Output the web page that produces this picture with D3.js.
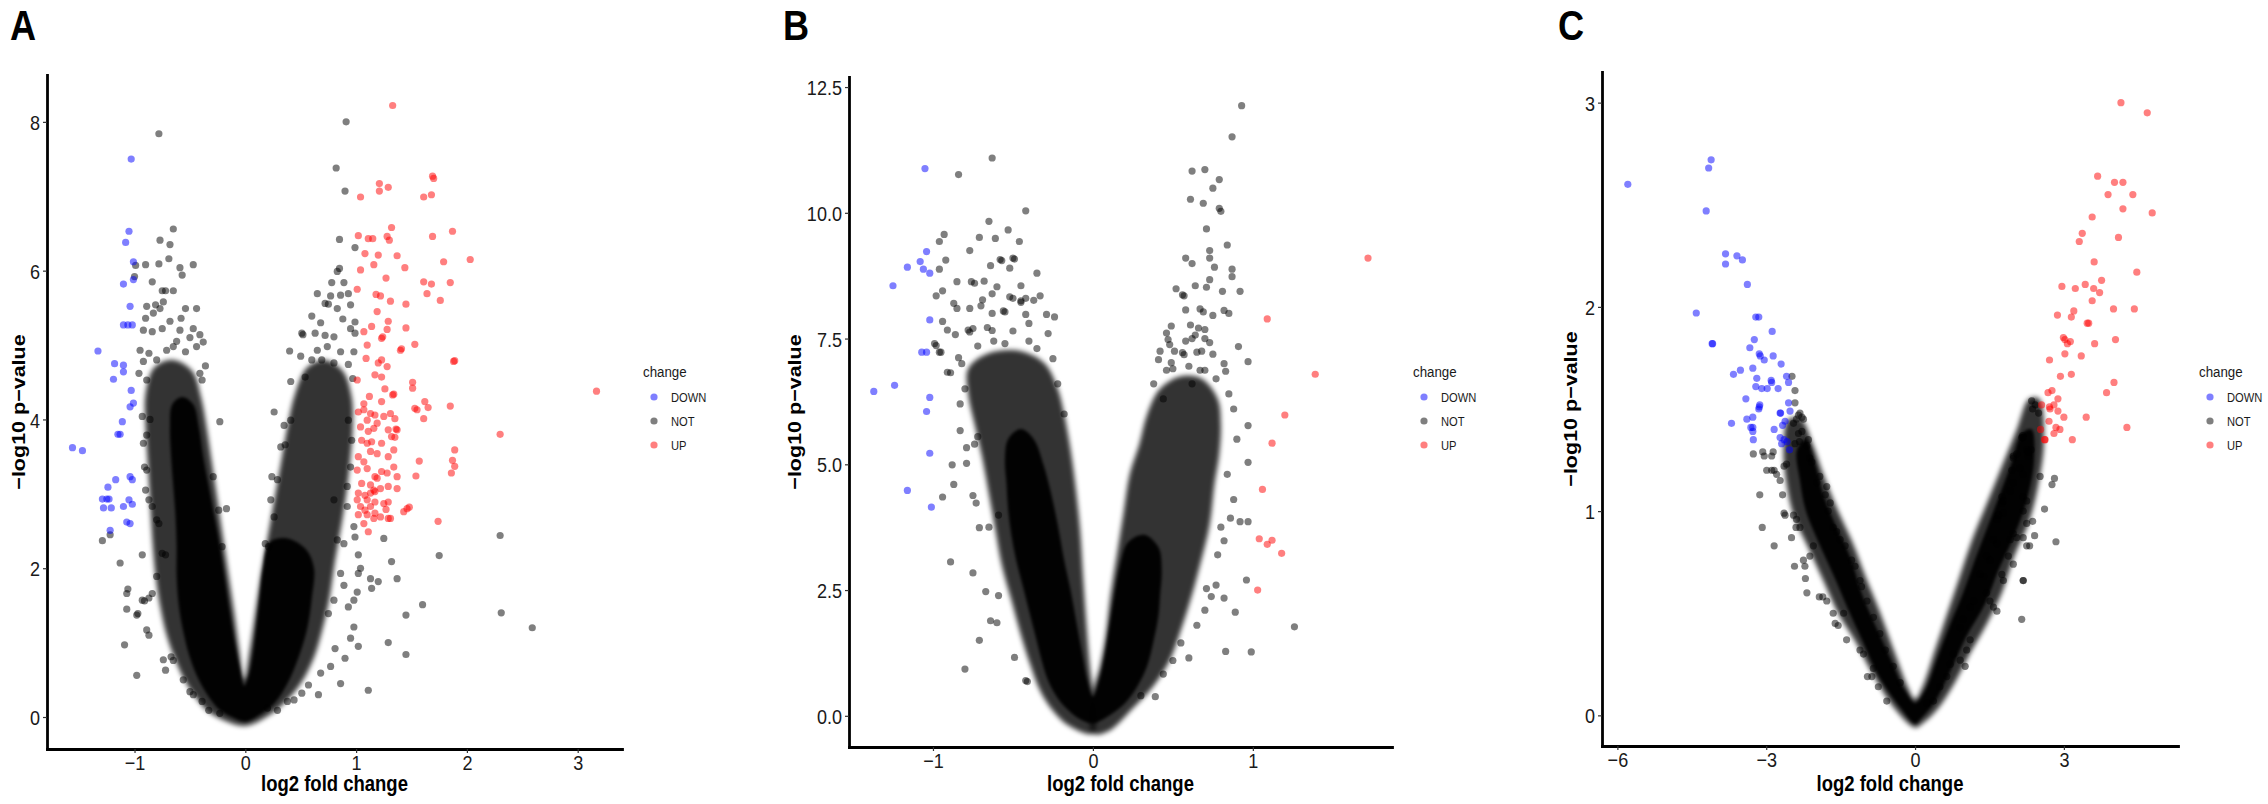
<!DOCTYPE html>
<html>
<head>
<meta charset="utf-8">
<script src="https://cdn.jsdelivr.net/npm/d3@7"></script>
<style>
  body { margin: 0; background: #fff; }
  svg { display: block; font-family: "Liberation Sans", Arial, sans-serif; }
</style>
</head>
<body>
<div id="chart"></div>
<script>
// ---------- values ----------
const changeLevels = ['DOWN', 'NOT', 'UP'];

// panel A
const aXTicks = [-1, 0, 1, 2, 3];
const aYTicks = [0, 2, 4, 6, 8];
// dense part of the cloud, outlined as [log2FC, -log10 p]
const aCore = [[[0,-0.06],[-0.12,0],[-0.22,0.08],[-0.32,0.25],[-0.42,0.5],[-0.5,0.8],[-0.56,1.15],[-0.6,1.5],[-0.62,1.9],[-0.62,2.3],[-0.63,2.7],[-0.65,3.1],[-0.67,3.5],[-0.68,3.9],[-0.66,4.2],[-0.57,4.3],[-0.47,4.2],[-0.42,3.9],[-0.38,3.5],[-0.33,3.1],[-0.28,2.7],[-0.23,2.3],[-0.19,1.9],[-0.14,1.4],[-0.09,0.95],[-0.05,0.65],[-0.01,0.42],[0.03,0.55],[0.07,0.85],[0.1,1.2],[0.13,1.6],[0.16,2],[0.22,2.35],[0.38,2.4],[0.55,2.25],[0.62,2],[0.6,1.6],[0.56,1.2],[0.48,0.8],[0.38,0.45],[0.27,0.2],[0.14,0.04]]];
const aHalo = [[[0,-0.12],[-0.2,-0.04],[-0.33,0.07],[-0.44,0.25],[-0.55,0.5],[-0.64,0.8],[-0.71,1.1],[-0.77,1.5],[-0.81,1.9],[-0.84,2.4],[-0.86,2.9],[-0.88,3.4],[-0.9,3.9],[-0.9,4.35],[-0.82,4.7],[-0.65,4.8],[-0.48,4.65],[-0.4,4.3],[-0.35,3.9],[-0.3,3.4],[-0.25,2.9],[-0.2,2.4],[-0.15,1.9],[-0.1,1.4],[-0.055,0.9],[-0.01,0.5],[0.04,0.9],[0.09,1.4],[0.14,1.9],[0.2,2.4],[0.26,2.9],[0.32,3.4],[0.38,3.9],[0.45,4.35],[0.56,4.7],[0.72,4.8],[0.88,4.65],[0.96,4.3],[0.97,3.9],[0.95,3.5],[0.92,3.1],[0.87,2.6],[0.81,2.1],[0.76,1.6],[0.7,1.2],[0.62,0.8],[0.5,0.45],[0.34,0.17],[0.2,0.01]]];
const aNot = [[-1.29,2.37],[-1.22,2.45],[-1.13,2.07],[-1.09,0.97],[-1.07,1.45],[-1.07,1.66],[-1.06,1.72],[-0.98,0.56],[-0.98,1.37],[-0.97,1.39],[-0.93,2.18],[-0.9,3.05],[-0.91,3.36],[-0.89,3.32],[-0.93,1.57],[-0.91,1.56],[-0.84,1.66],[-0.87,1.6],[-0.89,1.17],[-0.87,1.1],[-0.8,1.89],[-0.75,2.2],[-0.72,2.18],[-0.74,0.77],[-0.72,0.63],[-0.67,0.81],[-0.65,0.76],[-0.56,0.5],[-0.5,0.34],[-0.47,0.3],[-0.39,0.21],[-0.33,0.09],[-0.23,0.05],[-0.8,2.65],[-0.78,2.6],[-0.87,2.92],[-0.84,2.83],[-0.92,3.68],[-0.89,3.79],[-0.93,4.04],[-0.86,4],[-0.23,3.97],[-0.29,3.23],[-0.24,2.78],[-0.21,2.29],[-0.17,2.8],
  [-0.78,7.84],[-0.65,6.56],[-0.77,6.41],[-0.68,6.35],[-0.69,6.16],[-0.78,6.09],[-0.9,6.08],[-0.59,6.04],[-0.57,5.94],[-0.47,6.08],[-0.99,6.07],[-1,5.92],[-0.84,5.85],[-0.75,5.73],[-0.72,5.73],[-0.65,5.73],[-0.89,5.52],[-0.81,5.54],[-0.74,5.58],[-0.54,5.49],[-0.44,5.49],[-0.9,5.36],[-0.83,5.43],[-0.77,5.49],[-0.92,5.2],[-0.84,5.18],[-0.75,5.22],[-0.59,5.2],[-0.47,5.22],[-0.41,5.14],[-0.95,4.93],[-0.87,4.89],[-0.8,4.8],[-0.71,4.93],[-0.65,4.98],[-0.54,4.91],[-0.44,4.98],[-0.38,5.04],[-0.96,4.62],[-0.89,4.53],[-0.41,4.62],[-0.39,4.53],[-0.62,5.05],[-0.5,5.1],[-0.68,5.32],[-0.58,5.36],[-0.92,4.78],[-0.36,4.72],
  [0.26,4.1],[0.35,3.92],[0.41,3.99],[0.32,3.63],[0.36,3.66],[0.24,3.23],[0.29,3.19],[0.23,2.92],[0.26,2.69],[0.18,2.33],[0.21,2.29],[1.25,2.4],[1.02,2.18],[1.04,2],[1.02,1.93],[1.13,1.86],[1.14,1.73],[1.2,1.82],[1.32,2.09],[1.37,1.86],[0.98,1.57],[0.93,1.48],[1.01,1.68],[0.86,1.93],[0.89,1.77],[0.8,1.57],[0.75,1.39],[0.98,1.21],[0.95,1.06],[1.02,0.95],[0.81,0.92],[0.9,0.79],[0.77,0.68],[0.68,0.59],[0.86,0.45],[0.66,0.3],[1.11,0.36],[1.29,1],[1.45,0.84],[1.45,1.37],[1.6,1.51],[1.75,2.17],[2.3,2.44],[2.31,1.4],[2.59,1.2],[0.51,0.32],[0.57,0.43],[0.44,0.23],[0.38,0.21],[0.2,0.12],[0.29,0.09],[0.83,2.38],[0.89,2.33],[0.98,2.56],[0.99,2.42],[0.8,2.92],[0.92,2.83],[0.95,3.36],[0.92,3.1],[0.96,3.72],[0.93,3.99],
  [0.91,8],[0.82,7.38],[0.9,7.07],[0.85,6.42],[0.99,6.31],[0.85,6.03],[0.83,5.99],[0.78,5.84],[0.89,5.84],[0.65,5.69],[0.77,5.66],[0.86,5.67],[0.93,5.69],[0.72,5.56],[0.75,5.55],[0.83,5.49],[0.95,5.54],[0.6,5.39],[0.4,4.92],[0.51,5.16],[0.52,5.14],[0.41,4.51],[0.54,4.57],[0.63,5.16],[0.72,5.13],[0.8,5.11],[0.65,4.93],[0.74,4.98],[0.86,4.91],[0.98,4.91],[0.6,4.8],[0.69,4.8],[0.8,4.76],[0.93,4.74],[0.99,5.31],[0.95,5.22],[0.99,5.16],[0.5,4.85],[0.68,5.3],[0.88,5.35],[0.97,4.55]];
const aDown = [[-1.03,7.5],[-1.05,6.53],[-1.08,6.38],[-1.01,6.12],[-1.01,5.88],[-1.1,5.82],[-1.04,5.52],[-1.1,5.27],[-1.06,5.27],[-1.02,5.27],[-1.33,4.92],[-1.18,4.75],[-1.1,4.73],[-1.1,4.64],[-1.19,4.54],[-1.03,4.39],[-1.01,4.22],[-1.04,4.17],[-1.11,3.97],[-1.15,3.8],[-1.13,3.8],[-1.56,3.62],[-1.47,3.58],[-1.04,3.23],[-1.02,3.19],[-1.17,3.19],[-1.24,3.09],[-1.29,2.93],[-1.23,2.93],[-1.25,2.93],[-1.28,2.81],[-1.21,2.81],[-1.1,2.83],[-1.05,2.92],[-1.02,2.86],[-1.07,2.62],[-1.04,2.6],[-1.22,2.51]];
const aUp = [[1.33,8.22],[1.69,7.27],[1.7,7.24],[1.21,7.17],[1.29,7.12],[1.21,7.07],[1.04,6.99],[1.61,6.99],[1.68,7.02],[1.32,6.58],[1.02,6.47],[1.11,6.43],[1.15,6.43],[1.28,6.46],[1.3,6.41],[1.69,6.46],[1.87,6.53],[1.08,6.23],[1.2,6.21],[1.37,6.2],[1.16,6.08],[1.44,6.04],[1.04,6.01],[1.79,6.12],[2.03,6.15],[1.27,5.9],[1.61,5.85],[1.68,5.82],[1.85,5.84],[1.01,5.75],[1.18,5.68],[1.22,5.66],[1.31,5.59],[1.45,5.55],[1.64,5.69],[1.76,5.6],[1.19,5.45],[1.29,5.32],[1.28,5.21],[1.14,5.25],[1.45,5.23],[1.07,5.18],[1.23,5.09],[1.24,5.11],[1.53,5.01],[1.1,5],[1.4,4.93],[1.41,4.95],[1.09,4.82],[1.23,4.8],[1.2,4.76],[1.88,4.78],[1.89,4.79],[1.28,4.71],[1.17,4.6],[1.23,4.57],[1.51,4.5],[1.51,4.42],[1.01,4.53],[1.33,4.33],[1.34,4.34],[1.26,4.41],[1.12,4.31],[1.23,4.24],[1.07,4.21],[1.62,4.24],[1.85,4.18],[1.65,4.16],[1.53,4.15],[1.55,4.13],[3.17,4.38],[1.61,4.01],[2.3,3.8],[1.36,3.87],[1.35,3.76],
  [1.89,3.59],[1.87,3.45],[1.89,3.37],[1.86,3.28],[1.57,3.44],[1.54,3.24],[1.37,3.07],[1.29,2.89],[1.27,2.79],[1.43,2.76],[1.48,2.82],[1.31,2.67],[1.74,2.63],
  [1.02,4.1],[1.07,4.13],[1.13,4.08],[1.17,4.06],[1.1,3.99],[1.19,3.95],[1.25,4.04],[1.31,4.08],[1.35,4.01],[1.04,3.9],[1.11,3.84],[1.16,3.88],[1.29,3.86],[1.37,3.86],[1.05,3.72],[1.1,3.68],[1.14,3.7],[1.23,3.68],[1.32,3.77],[1.34,3.59],[1.13,3.57],[1.19,3.54],[1.29,3.5],[1.02,3.5],[1.07,3.43],[1.01,3.32],[1.1,3.34],[1.17,3.23],[1.19,3.21],[1.23,3.3],[1.28,3.28],[1.34,3.36],[1.37,3.23],[1.05,3.14],[1.13,3.12],[1.16,3.05],[1.22,3.07],[1.29,3.1],[1.02,3.01],[1.08,2.98],[1.13,3.01],[1.17,3.03],[1.01,2.92],[1.1,2.92],[1.17,2.89],[1.25,2.87],[1.46,2.8],[1.04,2.83],[1.08,2.78],[1.13,2.83],[1.17,2.74],[1.02,2.72],[1.1,2.72],[1.16,2.67],[1.22,2.69],[1.29,2.67],[1.07,2.6],[1.11,2.49]];

// panel B
const bXTicks = [-1, 0, 1];
const bYTicks = [0, 2.5, 5, 7.5, 10, 12.5];
const bCore = [[[0,-0.15],[-0.08,-0.07],[-0.15,0.1],[-0.22,0.35],[-0.28,0.7],[-0.32,1.1],[-0.36,1.6],[-0.4,2.1],[-0.44,2.6],[-0.48,3.1],[-0.51,3.6],[-0.53,4.1],[-0.54,4.6],[-0.55,5.1],[-0.53,5.5],[-0.45,5.7],[-0.37,5.5],[-0.31,5],[-0.26,4.4],[-0.22,3.8],[-0.18,3.1],[-0.14,2.5],[-0.1,1.8],[-0.065,1.2],[-0.035,0.7],[0,0.38],[0.04,0.7],[0.075,1.2],[0.105,1.8],[0.135,2.4],[0.17,3],[0.22,3.45],[0.32,3.6],[0.41,3.35],[0.43,2.9],[0.42,2.4],[0.41,2],[0.38,1.5],[0.34,1],[0.28,0.6],[0.2,0.25],[0.1,0]]];
const bHalo = [
  [[0,-0.35],[-0.15,-0.2],[-0.25,0.1],[-0.33,0.5],[-0.39,1],[-0.45,1.6],[-0.51,2.3],[-0.57,3],[-0.61,3.7],[-0.65,4.4],[-0.69,5.1],[-0.74,5.8],[-0.78,6.4],[-0.78,6.9],[-0.66,7.2],[-0.45,7.25],[-0.3,7],[-0.22,6.5],[-0.18,6],[-0.14,5.3],[-0.11,4.6],[-0.08,3.7],[-0.06,2.7],[-0.04,1.8],[-0.02,1],[0,0.45]],
  [[0,0.45],[0.045,1],[0.08,1.6],[0.11,2.4],[0.15,3.2],[0.19,4],[0.23,4.8],[0.29,5.4],[0.34,6],[0.42,6.5],[0.55,6.75],[0.68,6.7],[0.78,6.3],[0.8,5.8],[0.79,5.2],[0.76,4.6],[0.73,3.8],[0.67,3],[0.61,2.3],[0.55,1.7],[0.48,1.1],[0.38,0.6],[0.25,0.15],[0.1,-0.3],[0,-0.35]]];
const bNot = [[0.93,12.13],[0.87,11.51],[0.62,10.83],[0.7,10.86],[0.79,10.66],[0.75,10.49],[0.61,10.27],[0.69,10.19],[0.79,10.09],[0.8,10.03],[0.71,9.68],[0.84,9.36],[0.73,9.25],[0.73,9.1],[0.58,9.1],[0.62,8.99],[0.76,8.92],[0.87,8.88],[0.87,8.73],[0.52,8.49],[0.56,8.37],[0.57,8.35],[0.64,8.55],[0.71,8.52],[0.73,8.67],[0.81,8.44],[0.92,8.44],[0.58,8.07],[0.67,8.09],[0.69,8.03],[0.75,7.96],[0.82,8.06],[0.85,8],[0.49,7.75],[0.61,7.77],[0.66,7.71],[0.7,7.68],[0.46,7.61],[0.47,7.48],[0.64,7.57],[0.62,7.5],[0.58,7.45],[0.7,7.5],[0.73,7.42],[0.48,7.38],[0.91,7.34],[0.42,7.25],[0.51,7.25],[0.56,7.22],[0.57,7.18],[0.65,7.23],[0.68,7.25],[0.75,7.19],[0.41,7.08],[0.97,7.04],[0.49,7.02],[0.82,7],[0.83,6.85],[0.46,6.87],[0.67,6.87],[0.7,6.87],[0.97,5.77],[0.97,5.04],[0.86,3.93],[0.92,3.86],[0.97,3.86],[0.82,3.48],[0.8,3.75],[0.96,2.7],[0.82,2.34],[0.74,2.37],[0.89,2.06],[1.26,1.77],[0.83,1.28],[0.99,1.27],[0.77,2.6],[0.71,2.53],[0.44,0.83],[0.39,0.38],[0.6,1.15],[0.85,6.4],[0.88,6.1],[0.9,5.5],[0.84,4.8],[0.88,4.3],[0.78,3.2],[0.7,2.1],[0.65,1.8],[0.55,1.45],[0.5,1.1],[0.3,0.4],[0.38,6.6],[0.5,6.9],[0.6,6.95],[0.77,6.7],[0.44,6.3],[0.62,6.6],
  [-0.63,11.09],[-0.84,10.76],[-0.42,10.04],[-0.65,9.83],[-0.53,9.66],[-0.93,9.57],[-0.96,9.43],[-0.71,9.51],[-0.61,9.49],[-0.46,9.43],[-0.77,9.25],[-0.58,9.07],[-0.57,9.05],[-0.5,9.1],[-0.49,9.08],[-0.92,9.06],[-0.96,8.88],[-0.64,8.95],[-0.52,8.9],[-0.35,8.8],[-0.85,8.63],[-0.76,8.63],[-0.74,8.6],[-0.68,8.64],[-0.6,8.53],[-0.45,8.55],[-0.98,8.35],[-0.94,8.45],[-0.63,8.39],[-0.52,8.33],[-0.5,8.3],[-0.42,8.3],[-0.45,8.25],[-0.33,8.35],[-0.69,8.27],[-0.87,8.2],[-0.85,8.1],[-0.45,8.22],[-0.37,8.26],[-0.77,8.1],[-0.7,8.15],[-0.94,7.84],[-0.63,8],[-0.56,8.05],[-0.55,8.03],[-0.42,7.98],[-0.29,7.98],[-0.24,7.93],[-0.91,7.67],[-0.86,7.58],[-0.78,7.67],[-0.77,7.63],[-0.75,7.7],[-0.66,7.72],[-0.63,7.66],[-0.99,7.4],[-0.98,7.36],[-0.96,7.23],[-0.95,7.23],[-0.91,6.83],[-0.89,6.82],[-0.84,7.12],[-0.83,5.67],[-0.88,4.99],[-0.94,4.35],[-0.87,4.6],[-0.89,3.06],[-0.75,2.84],[-0.67,2.47],[-0.59,2.39],[-0.64,1.89],[-0.6,1.85],[-0.71,1.5],[-0.8,0.93],[-0.49,1.16],[-0.42,0.7],[-0.41,0.68],[-0.71,3.74],[-0.65,3.75],[-0.59,3.99],[-0.75,4.38],[-0.73,4.23],[-0.79,5.02],[-0.79,5.33],[-0.74,5.4],[-0.72,5.55],[-0.83,6.2],[-0.8,6.5],[-0.28,7.6],[-0.35,7.3],[-0.25,7.1],[-0.4,7.8],[-0.5,7.65],[-0.55,7.4],[-0.22,6.6],[-0.18,6],[-0.72,7.35],[-0.62,7.45],[-0.82,7.0],[-0.4,7.45]];
const bDown = [[-1.05,10.88],[-1.04,9.23],[-1.08,9.03],[-1.16,8.92],[-1.06,8.88],[-1.02,8.8],[-1.25,8.55],[-1.02,7.87],[-1.07,7.23],[-1.04,7.23],[-1.24,6.57],[-1.37,6.45],[-1.02,6.33],[-1.04,6.05],[-1.02,5.22],[-1.16,4.48],[-1.01,4.15]];
const bUp = [[1.72,9.1],[1.09,7.89],[1.39,6.79],[1.2,5.98],[1.12,5.42],[1.06,4.5],[1.04,3.52],[1.09,3.41],[1.12,3.49],[1.18,3.23],[1.03,2.5]];

// panel C
const cXTicks = [-6, -3, 0, 3];
const cYTicks = [0, 1, 2, 3];
const cCore = [[[0,-0.04],[-0.3,0.04],[-0.75,0.2],[-1.05,0.36],[-1.35,0.52],[-1.65,0.69],[-1.95,0.85],[-2.2,1],[-2.32,1.15],[-2.38,1.3],[-2.2,1.35],[-2,1.22],[-1.85,1.08],[-1.6,0.93],[-1.3,0.77],[-1.08,0.6],[-0.8,0.44],[-0.5,0.28],[-0.2,0.12],[0,0.06],[0.2,0.12],[0.45,0.28],[0.7,0.44],[0.97,0.6],[1.22,0.77],[1.47,0.93],[1.72,1.09],[1.95,1.24],[2.15,1.38],[2.35,1.4],[2.4,1.25],[2.25,1.05],[2,0.88],[1.68,0.71],[1.42,0.55],[1.02,0.38],[0.72,0.22],[0.38,0.06],[0.1,-0.02]]];
const cHalo = [[[0,-0.06],[-0.4,0.03],[-0.85,0.2],[-1.2,0.36],[-1.55,0.5],[-1.85,0.66],[-2.15,0.82],[-2.45,0.98],[-2.6,1.15],[-2.65,1.3],[-2.55,1.45],[-2.3,1.45],[-2.05,1.32],[-1.85,1.18],[-1.55,1],[-1.25,0.84],[-1,0.68],[-0.7,0.5],[-0.4,0.3],[-0.15,0.14],[0,0.08],[0.15,0.14],[0.4,0.32],[0.65,0.5],[0.9,0.68],[1.15,0.86],[1.45,1.04],[1.75,1.22],[2.05,1.4],[2.3,1.55],[2.5,1.55],[2.6,1.35],[2.5,1.15],[2.3,0.95],[2,0.78],[1.75,0.6],[1.45,0.45],[1.1,0.3],[0.8,0.16],[0.45,0.03],[0.15,-0.04]]];
const cNot = [[-3.26,1.28],[-3.07,1.29],[-3.04,1.27],[-2.86,1.29],[-2.89,1.27],[-2.99,1.2],[-2.89,1.2],[-2.84,1.2],[-2.72,1.15],[-2.79,1.18],[-2.64,1.22],[-2.59,1.23],[-3.13,1.08],[-2.67,1.08],[-3.08,0.92],[-2.84,0.83],[-2.49,0.87],[-2.64,0.99],[-2.62,0.98],[-2.45,0.98],[-2.39,0.96],[-2.4,0.92],[-2.32,0.92],[-2.43,0.73],[-2.21,0.67],[-2.18,0.6],[-2.25,0.76],[-2.22,0.73],[-2.12,0.78],[-2.05,0.83],[-1.93,0.58],[-1.86,0.58],[-1.78,0.56],[-1.61,0.45],[-1.55,0.44],[-1.65,0.5],[-1.44,0.5],[-1.38,0.37],[-0.96,0.19],[-0.87,0.19],[-0.84,0.23],[-1.11,0.32],[-1.04,0.3],[-0.74,0.14],[-0.57,0.07],[-2.42,1.33],[-2.33,1.34],[-2.35,1.38],[-2.28,1.39],[-2.45,1.43],[-2.39,1.45],[-2.32,1.48],[-2.28,1.46],[-2.15,1.35],[-2.18,1.32],[-2.12,1.26],[-2.08,1.24],[-1.92,1.17],[-1.98,1.14],[-1.78,1.12],[-1.81,1.08],[-1.71,1.04],[-1.75,1],[-1.65,0.92],[-1.58,0.9],[-1.51,0.86],[-1.41,0.83],[-1.28,0.76],[-1.21,0.73],[-1.11,0.66],[-1.08,0.63],[-0.97,0.56],[-0.84,0.48],[-0.71,0.4],[-0.6,0.32],[-0.44,0.24],[-0.3,0.16],[-2.48,1.66],[-2.42,1.59],[-2.42,1.53],[-2.35,1.47],[-2.25,1.45],
  [2.15,1.36],[2.17,1.37],[2.05,1.28],[1.98,1.26],[2.25,1.3],[2.28,1.27],[1.95,1.2],[2.18,1.18],[1.98,1.14],[1.92,1.1],[2.18,1.07],[2.25,1.05],[1.78,1.05],[1.75,1.04],[1.68,0.98],[1.65,0.96],[2.18,1],[2.25,0.94],[1.98,0.89],[1.92,0.86],[2.05,0.87],[2.18,0.87],[2.25,0.83],[1.98,0.74],[1.88,0.78],[2.18,0.66],[1.78,0.66],[1.75,0.69],[2.15,0.47],[1.65,0.84],[1.58,0.86],[1.44,0.78],[1.51,0.76],[1.31,0.69],[1.38,0.68],[1.44,0.6],[1.51,0.56],[1.58,0.53],[1.65,0.51],[1.18,0.56],[1.11,0.53],[0.97,0.47],[0.91,0.43],[1.11,0.37],[1.04,0.32],[1.01,0.24],[0.91,0.27],[0.64,0.19],[0.5,0.14],[0.77,0.3],[0.71,0.25],[0.37,0.07],[0.24,0.06],[2.35,1.54],[2.42,1.52],[2.49,1.48],[2.37,1.5],[2.18,1.36],[2.28,1.29],[2.34,1.3],[1.98,1.27],[2.11,1.21],[2.52,1.17],[2.76,1.13],[2.81,1.16],[2.61,1.01],[2.84,0.85],[2.18,0.66],[2.31,0.83],[2.41,0.88],[2.37,0.95],[1.75,1.07],[1.78,0.99]];
const cDown = [[-5.79,2.6],[-4.11,2.72],[-4.16,2.68],[-4.21,2.47],[-3.82,2.26],[-3.82,2.21],[-3.59,2.25],[-3.48,2.23],[-3.38,2.11],[-4.41,1.97],[-3.21,1.95],[-3.15,1.95],[-2.88,1.88],[-4.09,1.82],[-4.08,1.82],[-3.24,1.84],[-3.33,1.8],[-3.14,1.77],[-3.12,1.76],[-3.04,1.74],[-2.86,1.76],[-2.7,1.72],[-3.66,1.67],[-3.52,1.69],[-3.27,1.7],[-3.19,1.65],[-3.21,1.61],[-3.09,1.6],[-2.98,1.6],[-2.76,1.6],[-2.9,1.64],[-2.89,1.63],[-2.59,1.66],[-2.55,1.63],[-3.41,1.55],[-3.13,1.52],[-3.15,1.5],[-3.14,1.51],[-2.55,1.53],[-2.52,1.49],[-2.72,1.48],[-3.27,1.46],[-3.39,1.45],[-3.7,1.43],[-3.27,1.41],[-3.31,1.41],[-3.27,1.39],[-3.26,1.35],[-2.84,1.4],[-2.71,1.48],[-2.67,1.42],[-2.72,1.36],[-2.64,1.35],[-2.69,1.33],[-2.58,1.34],[-2.53,1.3],[-2.62,1.44]];
const cUp = [[4.15,3],[4.68,2.95],[3.68,2.64],[4.02,2.61],[4.19,2.61],[3.89,2.55],[4.39,2.55],[4.19,2.48],[4.78,2.46],[3.57,2.44],[3.37,2.36],[3.31,2.32],[4.1,2.34],[3.61,2.22],[4.47,2.17],[3.76,2.13],[2.96,2.1],[3.23,2.09],[3.43,2.11],[3.6,2.09],[3.72,2.07],[3.57,2.03],[4,1.99],[4.42,1.99],[2.87,1.96],[3.15,1.95],[3.2,1.98],[3.47,1.92],[3.5,1.92],[2.99,1.85],[3.02,1.84],[3.07,1.82],[3.13,1.83],[3.62,1.82],[4.04,1.84],[3.02,1.77],[3.35,1.76],[2.71,1.74],[2.93,1.66],[3.15,1.67],[4.01,1.63],[3.86,1.58],[2.68,1.58],[2.76,1.59],[2.55,1.52],[2.71,1.51],[2.8,1.52],[2.88,1.55],[2.72,1.5],[2.88,1.49],[3,1.46],[3.45,1.46],[2.7,1.44],[2.53,1.4],[2.84,1.41],[2.92,1.4],[2.8,1.38],[4.27,1.41],[2.61,1.35],[2.62,1.35],[3.17,1.35]];

// ---------- layout ----------
const W = 2268, H = 804;
const SX = 0.86;   // the original figure is squeezed horizontally
const colour = { DOWN: '#0000ff', NOT: '#000000', UP: '#ff0000' };

const panels = [
  { label: 'A', labelX: 10, left: 47, right: 622, top: 75, bottom: 749,
    xDomain: [-1.79, 3.4], yDomain: [-0.43, 8.63], xTicks: aXTicks, yTicks: aYTicks, yFmt: d3.format('d'),
    yTitleX: 25, core: aCore, halo: aHalo, not: aNot, down: aDown, up: aUp },
  { label: 'B', labelX: 783, left: 849, right: 1392, top: 77, bottom: 747,
    xDomain: [-1.525, 1.87], yDomain: [-0.62, 12.7], xTicks: bXTicks, yTicks: bYTicks, yFmt: d3.format('.1f'),
    yTitleX: 801, core: bCore, halo: bHalo, not: bNot, down: bDown, up: bUp },
  { label: 'C', labelX: 1558, left: 1602, right: 2178, top: 72, bottom: 746,
    xDomain: [-6.31, 5.3], yDomain: [-0.15, 3.15], xTicks: cXTicks, yTicks: cYTicks, yFmt: d3.format('d'),
    yTitleX: 1577, core: cCore, halo: cHalo, not: cNot, down: cDown, up: cUp }
];

const svg = d3.select('#chart').append('svg')
  .attr('width', W)
  .attr('height', H);

// soft edges for the dense clouds
const defs = svg.append('defs');
[['softHalo', 2.4], ['softCore', 1.6]].forEach(([id, sd]) => {
  defs.append('filter')
    .attr('id', id)
    .attr('x', '-20%').attr('y', '-20%').attr('width', '140%').attr('height', '140%')
    .append('feGaussianBlur').attr('stdDeviation', sd);
});

panels.forEach(p => {
  const x = d3.scaleLinear().domain(p.xDomain).range([p.left, p.right]);
  const y = d3.scaleLinear().domain(p.yDomain).range([p.bottom, p.top]);
  const g = svg.append('g');

  const outline = d3.line()
    .x(d => x(d[0]))
    .y(d => y(d[1]))
    .curve(d3.curveCatmullRomClosed.alpha(0.5));

  g.append('g').attr('filter', 'url(#softHalo)')
    .selectAll('path')
    .data(p.halo)
    .enter().append('path')
    .attr('d', outline)
    .attr('fill', '#000')
    .attr('fill-opacity', 0.8);
  g.append('g').attr('filter', 'url(#softCore)')
    .selectAll('path')
    .data(p.core)
    .enter().append('path')
    .attr('d', outline)
    .attr('fill', '#000')
    .attr('fill-opacity', 0.96);

  // single genes
  const pts = [].concat(
    p.not.map(d => ({ fc: d[0], p: d[1], change: 'NOT' })),
    p.down.map(d => ({ fc: d[0], p: d[1], change: 'DOWN' })),
    p.up.map(d => ({ fc: d[0], p: d[1], change: 'UP' }))
  );
  g.selectAll('circle.gene')
    .data(pts)
    .enter().append('circle')
    .attr('class', 'gene')
    .attr('cx', d => x(d.fc))
    .attr('cy', d => y(d.p))
    .attr('r', 3.6)
    .attr('fill', d => colour[d.change])
    .attr('fill-opacity', 0.5);

  // axes
  const xAxisGroup = g.append('g')
    .attr('transform', `translate(0, ${p.bottom})`)
    .call(d3.axisBottom(x).tickValues(p.xTicks).tickFormat(d3.format('d')).tickSize(4).tickSizeOuter(0));
  const yAxisGroup = g.append('g')
    .attr('transform', `translate(${p.left}, 0)`)
    .call(d3.axisLeft(y).tickValues(p.yTicks).tickFormat(p.yFmt).tickSize(4).tickSizeOuter(0));

  [xAxisGroup, yAxisGroup].forEach(a => {
    a.attr('font-family', null).attr('font-size', 21);
    a.select('.domain').attr('stroke', '#000').attr('stroke-width', 2.8).attr('stroke-linecap', 'square');
    a.selectAll('.tick line').attr('stroke', '#333').attr('stroke-width', 1.2);
    a.selectAll('.tick text').attr('fill', '#1a1a1a');
  });
  xAxisGroup.selectAll('.tick text')
    .attr('y', null).attr('dy', null)
    .text(d => d < 0 ? '\u2212' + Math.abs(d) : d)
    .attr('transform', `translate(0, 21) scale(${SX}, 1)`);
  yAxisGroup.selectAll('.tick text')
    .attr('x', null).attr('dy', '0.36em')
    .attr('transform', `translate(-7, 0) scale(${SX}, 1)`);

  // titles
  g.append('text')
    .attr('transform', `translate(${(p.left + p.right) / 2}, 791) scale(${SX}, 1)`)
    .attr('text-anchor', 'middle')
    .attr('font-weight', 'bold')
    .attr('font-size', 21.5)
    .attr('fill', '#000')
    .text('log2 fold change');
  g.append('text')
    .attr('transform', `translate(${p.yTitleX}, ${(p.top + p.bottom) / 2}) scale(${SX}, 1) rotate(-90)`)
    .attr('text-anchor', 'middle')
    .attr('font-weight', 'bold')
    .attr('font-size', 21.5)
    .attr('fill', '#000')
    .text('\u2212log10 p\u2212value');
  g.append('text')
    .attr('transform', `translate(${p.labelX}, 40) scale(${SX}, 1)`)
    .attr('font-weight', 'bold')
    .attr('font-size', 42)
    .attr('fill', '#000')
    .text(p.label);

  // legend
  const lg = g.append('g').attr('transform', `translate(${p.right + 21}, 0)`);
  lg.append('text')
    .attr('transform', `translate(0, 377) scale(${SX}, 1)`)
    .attr('font-size', 15.5)
    .attr('fill', '#1a1a1a')
    .text('change');
  const items = lg.selectAll('g.item')
    .data(changeLevels)
    .enter().append('g')
    .attr('class', 'item')
    .attr('transform', (d, i) => `translate(0, ${397 + i * 24})`);
  items.append('circle')
    .attr('cx', 11).attr('cy', 0).attr('r', 3.6)
    .attr('fill', d => colour[d]).attr('fill-opacity', 0.5);
  items.append('text')
    .attr('transform', `translate(28, 4.5) scale(${SX}, 1)`)
    .attr('font-size', 13)
    .attr('fill', '#1a1a1a')
    .text(d => d);
});
</script>
</body>
</html>
